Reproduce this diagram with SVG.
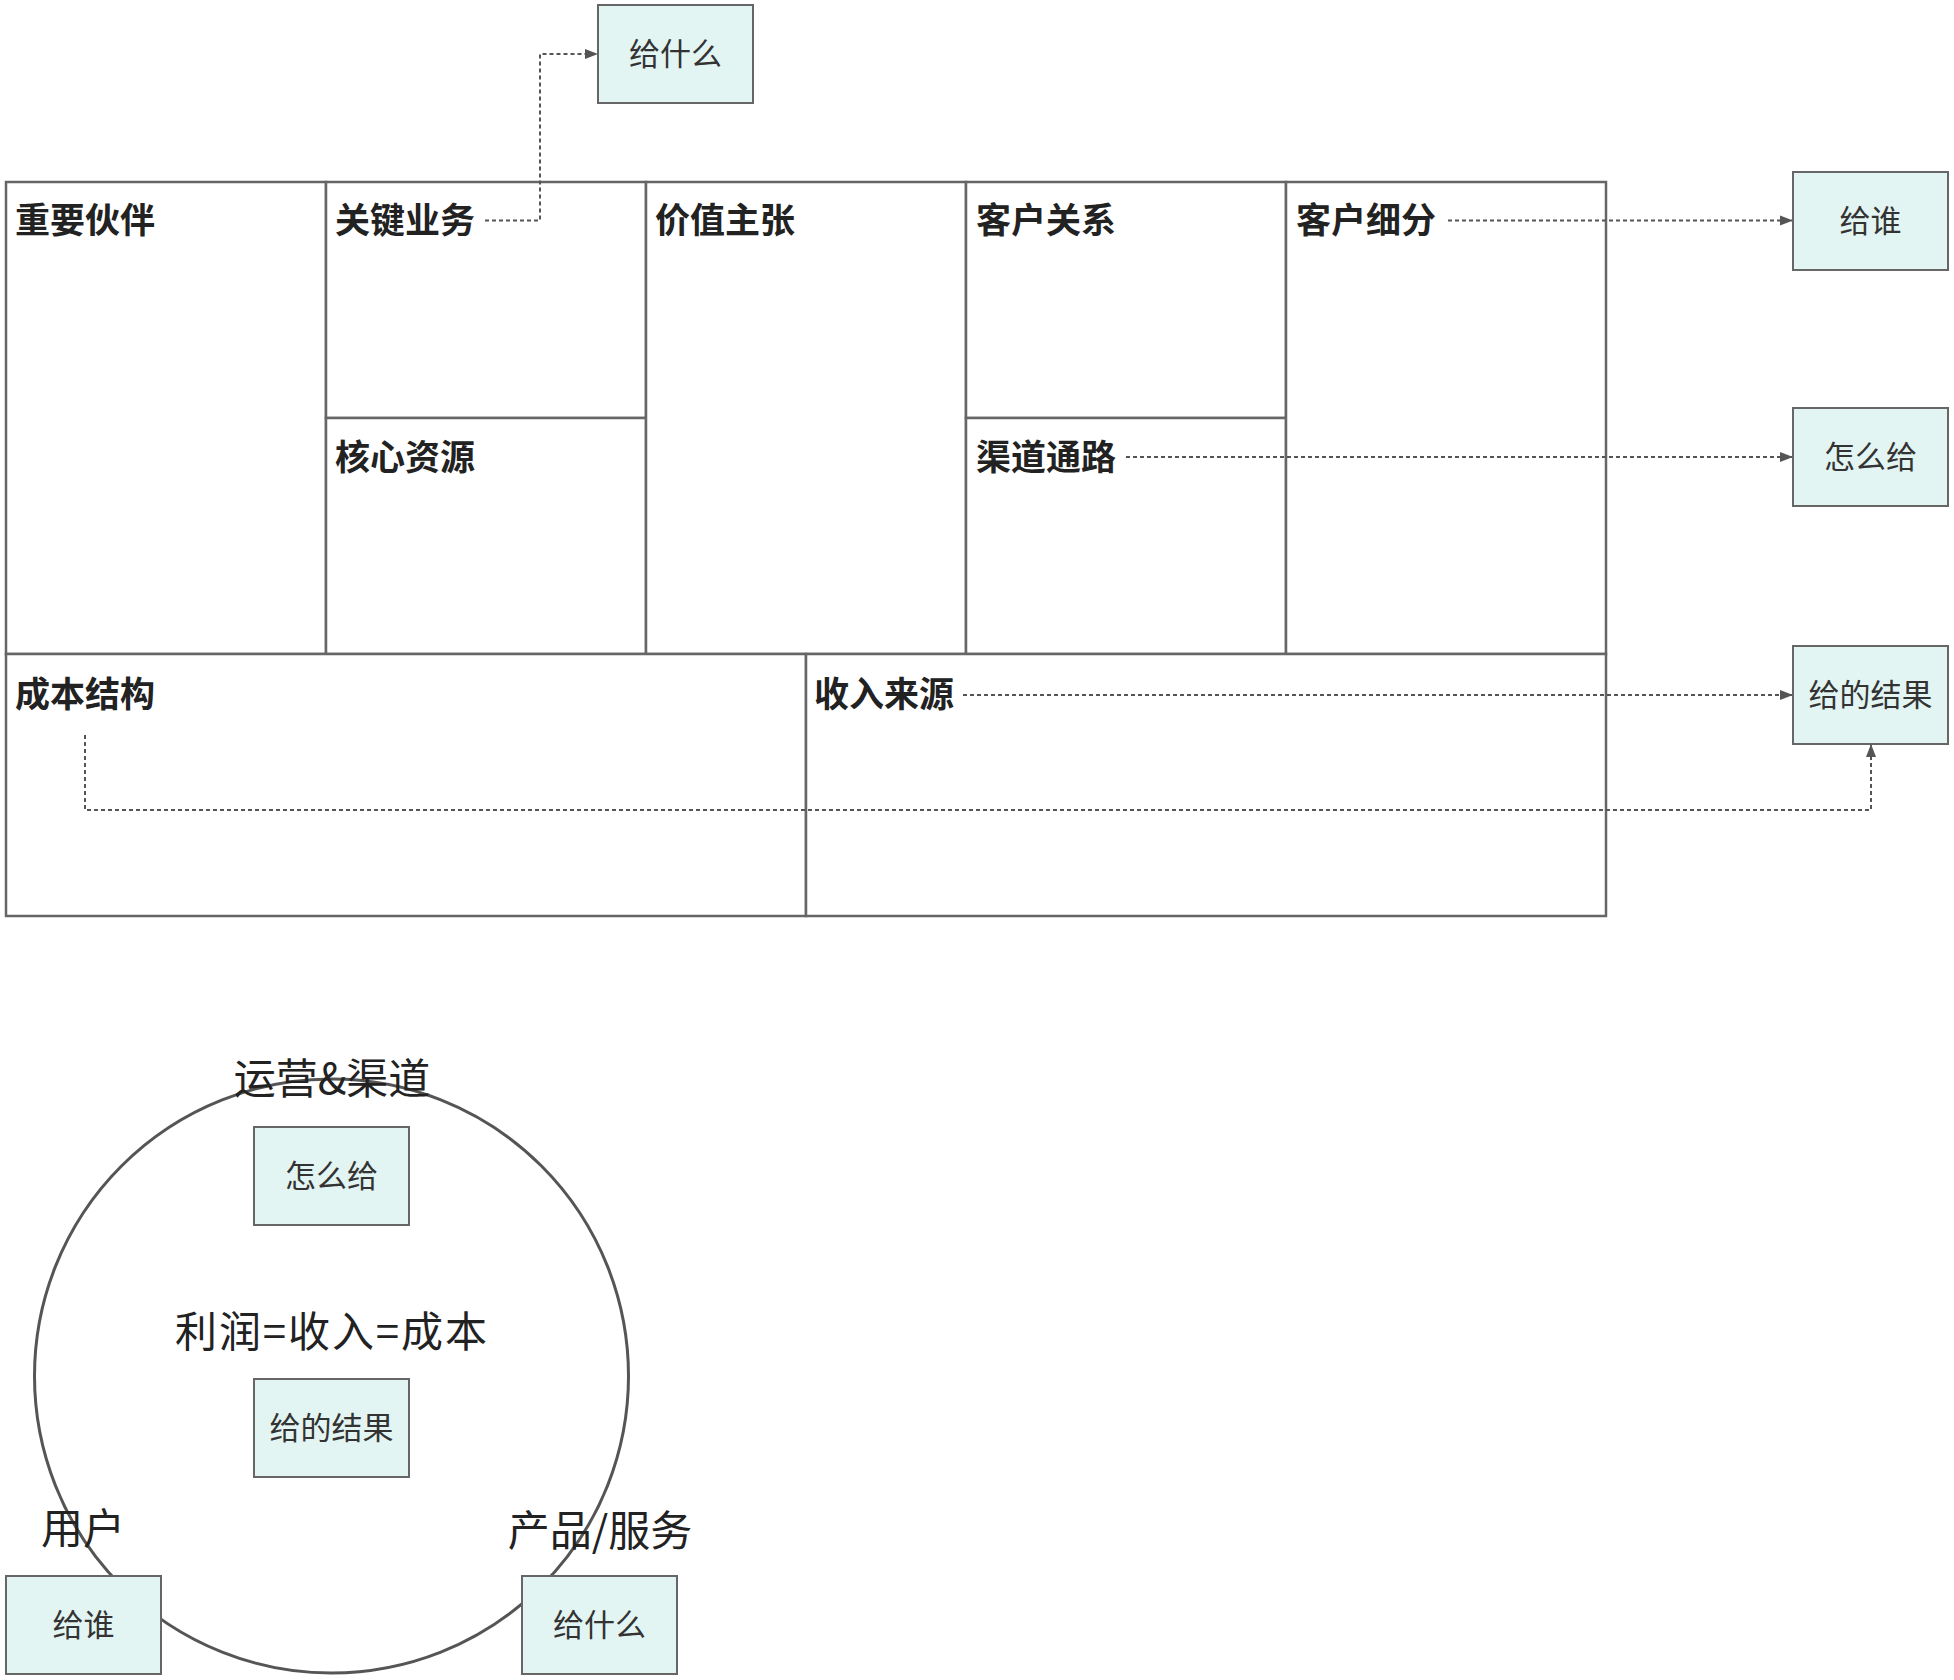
<svg xmlns="http://www.w3.org/2000/svg" width="1954" height="1680" viewBox="0 0 1954 1680">
<style>
.cell{fill:#ffffff;stroke:#666666;stroke-width:2.5}
.box{fill:#e3f5f3;stroke:#666666;stroke-width:2}
.lbl{font-family:"Noto Sans CJK SC","Noto Sans",sans-serif;font-weight:bold;font-size:35px;fill:#222222;dominant-baseline:central}
.bt{font-family:"Noto Sans CJK SC","Noto Sans",sans-serif;font-size:31px;fill:#333333;text-anchor:middle;dominant-baseline:central}
.big{font-family:"Noto Sans CJK SC","Noto Sans",sans-serif;font-size:42px;fill:#222222;text-anchor:middle;dominant-baseline:central}
.con{fill:none;stroke:#555555;stroke-width:2;stroke-dasharray:4 3}
</style>
<defs>
<marker id="arr" markerUnits="userSpaceOnUse" markerWidth="14" markerHeight="12" refX="13" refY="6" orient="auto">
<path d="M0,1 L13,6 L0,11 Z" fill="#555555"/>
</marker>
</defs>
<g id="canvas">
<g id="n-partners"><rect class="cell" x="6" y="182" width="320" height="472"/><text class="lbl" x="15" y="217.5">重要伙伴</text></g>
<g id="n-activities"><rect class="cell" x="326" y="182" width="320" height="236"/><text class="lbl" x="335" y="217.5">关键业务</text></g>
<g id="n-resources"><rect class="cell" x="326" y="418" width="320" height="236"/><text class="lbl" x="335" y="454">核心资源</text></g>
<g id="n-value"><rect class="cell" x="646" y="182" width="320" height="472"/><text class="lbl" x="655" y="217.5">价值主张</text></g>
<g id="n-relations"><rect class="cell" x="966" y="182" width="320" height="236"/><text class="lbl" x="976" y="217.5">客户关系</text></g>
<g id="n-channels"><rect class="cell" x="966" y="418" width="320" height="236"/><text class="lbl" x="976" y="454">渠道通路</text></g>
<g id="n-segments"><rect class="cell" x="1286" y="182" width="320" height="472"/><text class="lbl" x="1296" y="217.5">客户细分</text></g>
<g id="n-cost"><rect class="cell" x="6" y="654" width="800" height="262"/><text class="lbl" x="15" y="691">成本结构</text></g>
<g id="n-revenue"><rect class="cell" x="806" y="654" width="800" height="262"/><text class="lbl" x="814" y="691">收入来源</text></g>
</g>
<g id="connectors">
<path class="con" d="M485,220.5 H540 V54 H598" marker-end="url(#arr)"/>
<path class="con" d="M1448,220.5 H1793" marker-end="url(#arr)"/>
<path class="con" d="M1126,457 H1793" marker-end="url(#arr)"/>
<path class="con" d="M963,695 H1793" marker-end="url(#arr)"/>
<path class="con" d="M85,735 V810 H1871 V744" marker-end="url(#arr)"/>
</g>
<g id="n-what-top"><rect class="box" x="598" y="5" width="155" height="98"/><text class="bt" x="675.5" y="51">给什么</text></g>
<g id="n-who-right"><rect class="box" x="1793" y="172" width="155" height="98"/><text class="bt" x="1870.5" y="218">给谁</text></g>
<g id="n-how-right"><rect class="box" x="1793" y="408" width="155" height="98"/><text class="bt" x="1870.5" y="454">怎么给</text></g>
<g id="n-result-right"><rect class="box" x="1793" y="646" width="155" height="98"/><text class="bt" x="1870.5" y="692">给的结果</text></g>
<g id="n-circle"><circle cx="331.5" cy="1376" r="297" fill="none" stroke="#555555" stroke-width="3"/></g>
<g id="n-ops-label"><text class="big" x="332" y="1075">运营&amp;渠道</text></g>
<g id="n-profit-label"><text class="big" x="331" y="1328" font-size="44" textLength="312" lengthAdjust="spacing">利润=收入=成本</text></g>
<g id="n-user-label"><text class="big" x="83" y="1525">用户</text></g>
<g id="n-product-label"><text class="big" x="600" y="1527">产品/服务</text></g>
<g id="n-how-circle"><rect class="box" x="254" y="1127" width="155" height="98"/><text class="bt" x="331.5" y="1173">怎么给</text></g>
<g id="n-result-circle"><rect class="box" x="254" y="1379" width="155" height="98"/><text class="bt" x="331.5" y="1425">给的结果</text></g>
<g id="n-who-circle"><rect class="box" x="6" y="1576" width="155" height="98"/><text class="bt" x="83.5" y="1622">给谁</text></g>
<g id="n-what-circle"><rect class="box" x="522" y="1576" width="155" height="98"/><text class="bt" x="599.5" y="1622">给什么</text></g>
</svg>
